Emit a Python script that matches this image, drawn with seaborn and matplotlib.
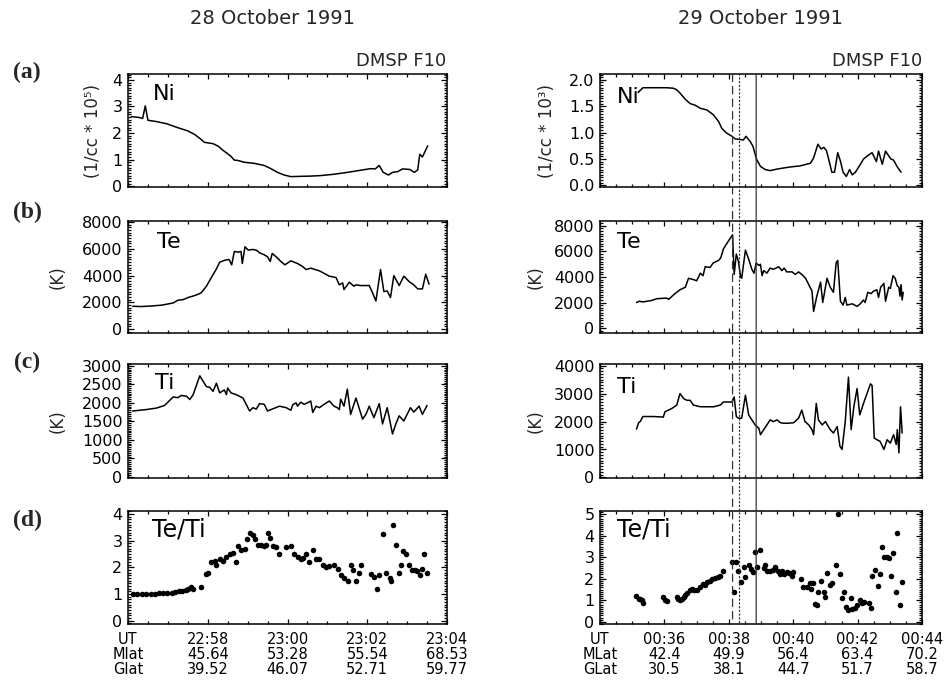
import matplotlib
matplotlib.use("Agg")
import matplotlib.pyplot as plt
import seaborn as sns
import pandas as pd
from matplotlib.ticker import MultipleLocator, FixedLocator
from matplotlib.patches import ConnectionPatch

# ---------------- data (time = seconds after panel start) ----------------
# 28 October 1991, start 22:56 UT
ni28_t = [5, 18, 22, 26, 30, 43, 58, 75, 90, 100,
          108, 115, 128, 136, 143, 150, 155, 160, 165, 175,
          190, 205, 215, 225, 235, 245, 258, 275, 290, 310,
          330, 350, 365, 372, 378, 384, 392, 398, 406, 413,
          424, 431, 436, 439, 443, 451]
ni28_v = [2.62, 2.58, 2.55, 3.02, 2.48, 2.43, 2.35, 2.2, 2.08, 1.95,
          1.8, 1.65, 1.6, 1.5, 1.35, 1.22, 1.12, 0.98, 0.97, 0.9,
          0.86, 0.78, 0.66, 0.52, 0.42, 0.36, 0.37, 0.38, 0.4, 0.45,
          0.52, 0.6, 0.66, 0.65, 0.78, 0.52, 0.42, 0.52, 0.55, 0.65,
          0.63, 0.52, 0.62, 1.2, 1.1, 1.52]

te28_t = [7, 20, 35, 50, 60, 68, 75, 83, 90, 97,
          103, 110, 118, 126, 132, 138, 146, 152, 156, 160,
          166, 170, 172, 176, 181, 187, 193, 198, 205, 210,
          214, 217, 223, 230, 236, 245, 255, 262, 268, 275,
          288, 303, 313, 318, 323, 325, 333, 340, 343, 350,
          363, 368, 373, 380, 385, 390, 395, 400, 408, 415,
          423, 430, 436, 443, 448, 453]
te28_v = [1700, 1680, 1720, 1780, 1870, 1950, 2150, 2200, 2350, 2450,
          2550, 2700, 3200, 3900, 4400, 5000, 5150, 5200, 4800, 5800,
          5750, 5800, 4900, 6150, 5900, 5950, 5900, 5700, 5550, 5400,
          5050, 5650, 5400, 5050, 4800, 5100, 4900, 4700, 4450, 4550,
          4350, 3950, 3850, 3300, 3450, 2950, 3500, 3200, 3300, 3250,
          3250, 2700, 2100, 4450, 2800, 2850, 2350, 4000, 3250, 3950,
          3550, 3300, 3000, 3000, 4100, 3350]

ti28_t = [7, 28, 43, 55, 68, 75, 80, 88, 93, 98,
          108, 118, 123, 128, 133, 138, 145, 148, 150, 155,
          163, 173, 183, 188, 193, 198, 205, 210, 218, 228,
          238, 245, 248, 253, 255, 260, 265, 270, 275, 278,
          283, 288, 295, 303, 310, 315, 318, 320, 325, 330,
          335, 343, 353, 358, 363, 370, 378, 383, 390, 398,
          403, 408, 415, 425, 430, 438, 443, 450]
ti28_v = [1780, 1820, 1860, 1930, 2160, 2140, 2200, 2180, 2090, 2220,
          2730, 2440, 2420, 2310, 2530, 2270, 2350, 2220, 2400, 2270,
          2220, 2130, 1780, 1870, 1830, 1980, 1960, 1780, 1840, 1910,
          1870, 1800, 1950, 2000, 1910, 2020, 1960, 2000, 2050, 1740,
          1910, 1870, 1960, 2050, 1910, 1870, 1820, 2100, 1910, 2370,
          1690, 2130, 1560, 1690, 1910, 1600, 1980, 1430, 1870, 1160,
          1430, 1650, 1510, 1870, 1750, 1910, 1690, 1930]

ratio28_t = [7, 14, 20.5, 27, 34, 40.5, 47, 53, 59, 65.5,
             70.5, 76.5, 82, 87, 90.5, 95.5, 98, 110.5, 117, 120.5,
             125.5, 130.5, 133, 138, 143, 148, 153, 158, 162, 165.5,
             170.5, 175.5, 179, 183, 188, 190.5, 195.5, 200.5, 204.5, 208,
             210.5, 214, 218, 223, 227, 238, 245.5, 250.5, 255.5, 260.5,
             264, 268, 273, 278, 283, 288, 293, 298, 303, 310.5,
             315.5, 320.5, 325.5, 330.5, 335.5, 339, 343, 347, 350.5, 365.5,
             370.5, 374, 378, 383, 388, 394, 395.5, 399, 403, 408,
             410.5, 414, 418, 423, 428, 432, 435.5, 439, 443, 445.5,
             450.5]
ratio28_v = [1.0, 1.0, 1.0, 1.0, 1.0, 1.0, 1.02, 1.03, 1.05, 1.05,
             1.07, 1.1, 1.12, 1.15, 1.2, 1.25, 1.2, 1.25, 1.75, 1.8,
             2.2, 2.25, 2.1, 2.3, 2.25, 2.4, 2.5, 2.55, 2.2, 2.8,
             2.65, 2.7, 3.05, 3.3, 3.2, 3.05, 2.85, 2.85, 2.8, 2.85,
             3.3, 3.1, 2.8, 2.75, 2.5, 2.75, 2.8, 2.5, 2.4, 2.3,
             2.35, 2.5, 2.2, 2.65, 2.3, 2.3, 2.1, 2.0, 2.05, 2.1,
             1.95, 1.7, 1.6, 1.5, 2.1, 1.9, 1.5, 1.8, 2.1, 1.75,
             1.65, 1.2, 1.7, 3.25, 1.8, 1.6, 1.5, 3.6, 2.85, 1.8,
             2.1, 2.6, 2.5, 2.1, 1.9, 1.9, 1.85, 1.7, 1.95, 2.5,
             1.8]

# 29 October 1991, start 00:34 UT
ni29_t = [71, 80, 124, 137, 143, 149, 159, 168, 177, 187,
          199, 211, 221, 227, 236, 246, 252, 261, 267, 272,
          280, 285, 292, 299, 308, 317, 330, 342, 355, 373,
          392, 398, 406, 412, 417, 422, 428, 432, 437, 443,
          448, 453, 459, 465, 470, 476, 484, 491, 501, 507,
          515, 519, 526, 532, 538, 542, 547, 554, 561]
ni29_v = [1.76, 1.85, 1.85, 1.84, 1.81, 1.75, 1.63, 1.55, 1.52, 1.46,
          1.43, 1.34, 1.21, 1.08, 0.99, 0.93, 0.88, 0.87, 0.86, 0.93,
          0.83, 0.74, 0.49, 0.36, 0.30, 0.28, 0.31, 0.33, 0.35, 0.37,
          0.42, 0.52, 0.78, 0.69, 0.72, 0.66, 0.42, 0.25, 0.25, 0.62,
          0.46, 0.25, 0.17, 0.30, 0.20, 0.25, 0.38, 0.50, 0.58, 0.62,
          0.45, 0.65, 0.40, 0.65, 0.56, 0.50, 0.48, 0.35, 0.25]

te29_t = [68, 73, 80, 95, 106, 124, 128, 137, 149, 159,
          165, 174, 180, 187, 192, 196, 205, 211, 221, 225,
          230, 239, 247, 250, 254, 258, 262, 264, 271, 277,
          283, 287, 291, 296, 299, 302, 305, 311, 317, 323,
          333, 339, 343, 348, 358, 364, 370, 376, 383, 389,
          395, 398, 404, 411, 415, 423, 429, 435, 440, 443,
          448, 453, 457, 460, 470, 479, 485, 491, 494, 499,
          505, 510, 516, 519, 523, 529, 532, 538, 541, 546,
          550, 554, 557, 559, 561, 563, 565]
te29_v = [2000, 2100, 2050, 2150, 2300, 2350, 2250, 2600, 3000, 3200,
          3900, 3800, 3700, 4300, 4100, 4800, 4750, 5100, 5300, 5500,
          6200, 6800, 7300, 4200, 5800, 5200, 4000, 3900, 6100, 5400,
          4600, 4300, 5100, 4900, 5000, 4100, 4500, 4300, 4700, 4600,
          4800, 4500, 4700, 4400, 4400, 4200, 4400, 4200, 3900, 3400,
          2900, 1300, 2500, 3600, 2000, 3900, 3200, 2800, 5100, 5300,
          2100, 1800, 2400, 1800, 1900, 1700, 1900, 2200, 2000, 2800,
          2700, 2900, 3000, 2400, 3200, 3500, 2100, 3200, 3100, 4100,
          3900, 3300, 3200, 2500, 3400, 2200, 2800]

ti29_t = [68, 72, 75, 80, 100, 118, 121, 134, 143, 149,
          156, 162, 168, 174, 187, 199, 212, 224, 230, 246,
          250, 254, 258, 264, 271, 277, 283, 289, 296, 299,
          305, 311, 317, 323, 330, 336, 342, 351, 361, 370,
          376, 382, 389, 395, 398, 403, 407, 414, 420, 429,
          435, 442, 447, 451, 457, 463, 468, 473, 479, 484,
          491, 504, 507, 511, 516, 522, 529, 535, 541, 547,
          552, 554, 557, 560, 563]
ti29_v = [1730, 1960, 2000, 2180, 2180, 2160, 2350, 2470, 2590, 3000,
          2820, 2760, 2760, 2590, 2530, 2530, 2530, 2590, 2700, 2700,
          2880, 2180, 2120, 2120, 2940, 2240, 2060, 1880, 1760, 1530,
          1710, 1880, 2060, 2000, 2060, 1960, 1940, 1940, 1960, 2120,
          2410, 2000, 1880, 1710, 1530, 2650, 2060, 1880, 2000, 1710,
          1590, 1820, 1120, 1000, 2000, 3590, 1710, 2530, 3180, 2240,
          2650, 3350, 3290, 1410, 1350, 1290, 1000, 1350, 1230, 1530,
          1180, 1710, 880, 2530, 1590]

ratio29_t = [68, 72, 75, 78, 81, 118, 121, 124, 143, 146,
             149, 152, 156, 159, 163, 167, 171, 175, 180, 187,
             192, 196, 200, 205, 208, 215, 219, 224, 230, 246,
             250, 254, 258, 262, 268, 271, 277, 281, 286, 289,
             292, 299, 305, 308, 312, 317, 322, 327, 331, 335,
             339, 343, 348, 353, 358, 360, 374, 379, 386, 391,
             393, 396, 400, 404, 407, 412, 417, 420, 423, 429,
             432, 439, 443, 447, 451, 455, 459, 463, 467, 470,
             476, 479, 485, 488, 491, 501, 505, 507, 513, 518,
             522, 526, 529, 534, 538, 542, 546, 551, 554, 559,
             563]
ratio29_v = [1.18, 1.08, 1.08, 1.0, 0.88, 1.15, 1.0, 0.95, 1.15, 1.08,
             1.0, 1.08, 1.15, 1.23, 1.34, 1.46, 1.54, 1.49, 1.49, 1.62,
             1.77, 1.69, 1.85, 1.92, 2.0, 2.05, 2.08, 2.11, 2.35, 2.77,
             1.38, 2.77, 2.38, 1.85, 2.57, 2.08, 2.66, 2.46, 2.31, 3.23,
             2.54, 3.34, 2.51, 2.66, 2.38, 2.35, 2.42, 2.54, 2.35, 2.2,
             2.38, 2.23, 2.31, 2.26, 2.11, 2.31, 2.0, 1.62, 1.62, 1.8,
             1.54, 1.8, 0.85, 0.77, 1.38, 1.89, 1.38, 1.15, 2.27, 1.69,
             1.8, 2.65, 5.0, 2.24, 1.12, 1.38, 0.69, 0.54, 1.12, 0.62,
             0.66, 0.77, 1.0, 0.88, 0.92, 0.88, 0.66, 2.15, 2.42, 1.65,
             2.23, 3.49, 3.03, 3.0, 2.97, 2.11, 3.18, 1.38, 4.15, 0.77,
             1.85]

# boundary markers on 29 October (seconds after 00:34)
vline_t = [247, 260, 291]
vline_styles = [(0, (6, 4)), (0, (1, 2)), "-"]

# axis tick labels
ticks28 = [0, 120, 240, 360, 480]
ut28 = ["UT", "22:58", "23:00", "23:02", "23:04"]
mlat28 = ["Mlat", "45.64", "53.28", "55.54", "68.53"]
glat28 = ["Glat", "39.52", "46.07", "52.71", "59.77"]
ticks29 = [0, 120, 240, 360, 480, 600]
ut29 = ["UT", "00:36", "00:38", "00:40", "00:42", "00:44"]
mlat29 = ["MLat", "42.4", "49.9", "56.4", "63.4", "70.2"]
glat29 = ["GLat", "30.5", "38.1", "44.7", "51.7", "58.7"]

# ---------------- figure ----------------
sns.set_style("ticks")
plt.rcParams['font.family'] = ['DejaVu Sans']
plt.rcParams['axes.linewidth'] = 1.1

W, H = 944, 683
fig = plt.figure(figsize=(W / 100, H / 100), dpi=100)

cols = [(128, 447), (600, 922)]
rows = [(74, 187), (221, 333), (364, 478), (511, 624)]

def make_ax(c, r):
    x0, x1 = cols[c]
    y0, y1 = rows[r]
    return fig.add_axes([x0 / W, 1 - y1 / H, (x1 - x0) / W, (y1 - y0) / H])

axes = [[make_ax(c, r) for r in range(4)] for c in range(2)]

series = [
    [(ni28_t, ni28_v), (te28_t, te28_v), (ti28_t, ti28_v), (ratio28_t, ratio28_v)],
    [(ni29_t, ni29_v), (te29_t, te29_v), (ti29_t, ti29_v), (ratio29_t, ratio29_v)],
]
ylims = [
    [(-0.03, 4.22), (-300, 8080), (-30, 3050), (-0.13, 4.11)],
    [(-0.03, 2.11), (-385, 8385), (-20, 4060), (-0.1, 5.15)],
]
ymajor = [[1, 2000, 500, 1], [0.5, 2000, 1000, 1]]
yminor = [[0.1, 200, 50, 0.1], [0.05, 200, 100, 0.1]]
yfmt = [["%d", "%d", "%d", "%d"], ["%.1f", "%d", "%d", "%d"]]
names = ["Ni", "Te", "Ti", "Te/Ti"]
name_pos = [[(0.078, 0.91), (0.09, 0.9), (0.085, 0.92), (0.075, 0.94)],
            [(0.053, 0.885), (0.053, 0.9), (0.053, 0.885), (0.053, 0.94)]]
xlims = [(0, 480), (0, 600)]
xticks = [ticks28, ticks29]
xlabels = [[f"{u}\n{m}\n{g}" for u, m, g in zip(ut28, mlat28, glat28)],
           [f"{u}\n{m}\n{g}" for u, m, g in zip(ut29, mlat29, glat29)]]

for c in range(2):
    for r in range(4):
        ax = axes[c][r]
        t, v = series[c][r]
        df = pd.DataFrame({"t": t, "v": v})
        if r < 3:
            sns.lineplot(data=df, x="t", y="v", ax=ax, color="black",
                         linewidth=1.1, estimator=None, sort=False)
        else:
            sns.scatterplot(data=df, x="t", y="v", ax=ax, color="black",
                            s=16, linewidth=0)
        ax.set_xlim(*xlims[c])
        ax.set_ylim(*ylims[c][r])
        ax.set_xlabel("")
        ax.set_ylabel("")
        ax.xaxis.set_major_locator(FixedLocator(xticks[c]))
        ax.xaxis.set_minor_locator(MultipleLocator(30))
        ax.yaxis.set_major_locator(MultipleLocator(ymajor[c][r]))
        ax.yaxis.set_minor_locator(MultipleLocator(yminor[c][r]))
        ax.yaxis.set_major_formatter(plt.FormatStrFormatter(yfmt[c][r]))
        ax.tick_params(axis="both", which="both", direction="in",
                       top=True, right=True, width=0.9, colors="black")
        ax.tick_params(axis="y", which="major", length=4.5, labelsize=11.5, pad=4)
        ax.tick_params(axis="y", which="minor", length=2.2)
        ax.tick_params(axis="x", which="major", length=3.5, labelsize=10.5, pad=6)
        ax.tick_params(axis="x", which="minor", length=2.0)
        if r == 3:
            ax.set_xticklabels(xlabels[c])
            for lab in ax.get_xticklabels():
                lab.set_linespacing(1.0)
        else:
            ax.set_xticklabels([])
        nx, ny = name_pos[c][r]
        ax.text(nx, ny, names[r], transform=ax.transAxes, ha="left", va="top",
                fontsize=17 if r == 3 else 16, color="black")
        for sp in ax.spines.values():
            sp.set_linewidth(1.1)
            sp.set_color("black")

# y-axis unit labels
axes[0][0].text(-0.11, 0.5, "(1/cc * 10⁵)", transform=axes[0][0].transAxes,
                rotation=90, ha="center", va="center", fontsize=12)
axes[1][0].text(-0.165, 0.5, "(1/cc * 10³)", transform=axes[1][0].transAxes,
                rotation=90, ha="center", va="center", fontsize=12)
for r in (1, 2):
    axes[0][r].text(-0.222, 0.5, "(K)", transform=axes[0][r].transAxes,
                    rotation=90, ha="center", va="center", fontsize=12)
    axes[1][r].text(-0.2, 0.5, "(K)", transform=axes[1][r].transAxes,
                    rotation=90, ha="center", va="center", fontsize=12)

# boundary lines across all right-hand panels
top_ax, bot_ax = axes[1][0], axes[1][3]
for xv, ls in zip(vline_t, vline_styles):
    con = ConnectionPatch(xyA=(xv, top_ax.get_ylim()[1]), coordsA=top_ax.transData,
                          xyB=(xv, bot_ax.get_ylim()[0]), coordsB=bot_ax.transData,
                          color="#333333", linewidth=0.9, linestyle=ls)
    fig.add_artist(con)

# titles and annotations
fig.text(273 / W, 1 - 18 / H, "28 October 1991", ha="center", va="center", fontsize=14)
fig.text(761 / W, 1 - 18 / H, "29 October 1991", ha="center", va="center", fontsize=14)
fig.text(446 / W, 1 - 61 / H, "DMSP F10", ha="right", va="center", fontsize=13)
fig.text(922 / W, 1 - 61 / H, "DMSP F10", ha="right", va="center", fontsize=13)
for lab, yc in zip(["(a)", "(b)", "(c)", "(d)"], [72, 212, 362, 520]):
    fig.text(27 / W, 1 - yc / H, lab, ha="center", va="center", fontsize=17,
             fontweight="bold", family=["Liberation Serif", "DejaVu Serif"])

fig.savefig("out.png", dpi=100, facecolor="white")
